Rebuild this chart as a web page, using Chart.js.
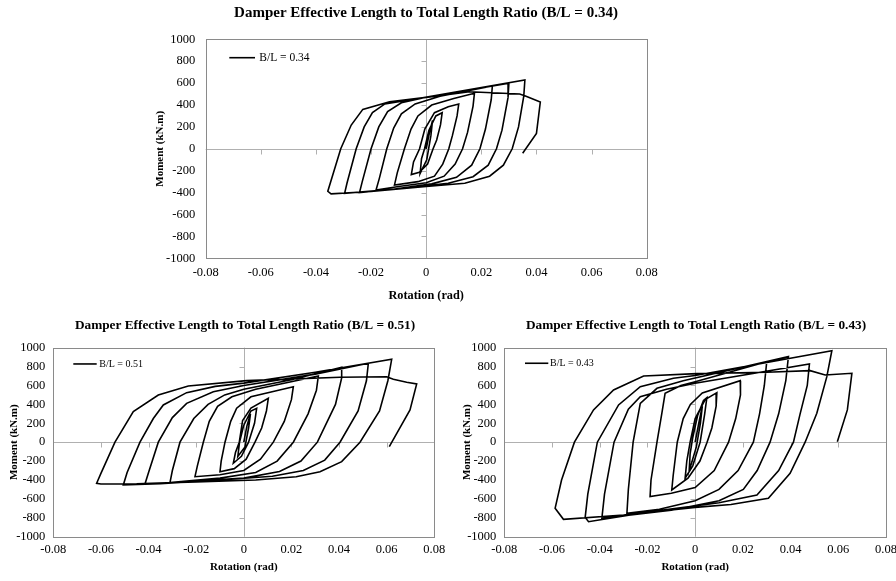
<!DOCTYPE html>
<html><head><meta charset="utf-8">
<script src="https://cdn.jsdelivr.net/npm/chart.js@4.4.0/dist/chart.umd.min.js"></script>
<style>
html,body{margin:0;padding:0;background:#fff;overflow:hidden;width:896px;height:581px;position:relative;}
canvas{position:absolute;}
</style></head><body>
<canvas id="c1" width="572" height="310" style="left:140px;top:0px"></canvas>
<canvas id="c2" width="490" height="273" style="left:0px;top:308px"></canvas>
<canvas id="c3" width="492" height="273" style="left:450px;top:308px"></canvas>
<script>
const xTickLabels = ['-0.08','-0.06','-0.04','-0.02','0','0.02','0.04','0.06','0.08'];
const yTickLabels = ['-1000','-800','-600','-400','-200','0','200','400','600','800','1000'];
const xAxisTitle = 'Rotation (rad)';
const yAxisTitle = 'Moment (kN.m)';
const chartTitles = [
  'Damper Effective Length to Total Length Ratio (B/L = 0.34)',
  'Damper Effective Length to Total Length Ratio (B/L = 0.51)',
  'Damper Effective Length to Total Length Ratio (B/L = 0.43)'
];
const seriesLabels = ['B/L = 0.34','B/L = 0.51','B/L = 0.43'];

// [rotation (rad), moment (kN.m)]
const curve034 = [
[0,0],[0.0012,150],[0.0023,260],[0.0017,120],[0.0002,-100],[-0.0022,-225],
[-0.0017,-90],[-0.0006,0],[0.0010,170],[0.0035,300],[0.0058,330],
[0.0052,220],[0.0038,80],[0.0025,0],[0.0005,-140],[-0.0025,-215],[-0.0054,-235],
[-0.0046,-120],[-0.0024,0],[-0.0005,180],[0.0030,330],[0.0080,385],[0.0118,409],
[0.0112,300],[0.0095,120],[0.0082,0],[0.0060,-140],[0.0030,-250],[-0.0030,-300],[-0.0115,-330],
[-0.0105,-220],[-0.0079,0],[-0.0055,180],[-0.0030,300],[0.0020,400],[0.0100,460],[0.0175,507],
[0.0170,390],[0.0150,150],[0.0132,0],[0.0105,-140],[0.0065,-250],[0.0000,-310],[-0.0100,-345],[-0.0182,-376],
[-0.0170,-270],[-0.0143,0],[-0.0118,190],[-0.0090,320],[-0.0040,410],[0.0050,480],[0.0240,573],
[0.0236,450],[0.0215,180],[0.0195,0],[0.0165,-150],[0.0110,-260],[0.0020,-320],[-0.0120,-370],[-0.0242,-400],
[-0.0232,-300],[-0.0200,0],[-0.0172,200],[-0.0140,340],[-0.0090,420],[0.0000,470],[0.0300,598],
[0.0297,470],[0.0275,170],[0.0255,0],[0.0225,-150],[0.0170,-255],[0.0080,-315],[-0.0100,-365],[-0.0296,-406],
[-0.0287,-310],[-0.0254,0],[-0.0225,200],[-0.0195,330],[-0.0150,410],[-0.0050,450],[0.0358,628],
[0.0354,480],[0.0335,200],[0.0312,0],[0.0280,-150],[0.0230,-250],[0.0140,-315],[0.0000,-345],[-0.0200,-390],[-0.0345,-412],[-0.0357,-388],
[-0.0310,0],[-0.0272,217],[-0.0230,360],[-0.0133,430],[0.0000,470],[0.0157,521],[0.0339,500],[0.0360,482],[0.0414,427],[0.0400,141],[0.0350,-41]
];

const curve051 = [
[0,0],[0.0013,170],[0.0028,300],[0.0020,150],[0.0005,-50],[-0.0025,-150],
[-0.0018,0],[0.0000,180],[0.0030,330],[0.0054,358],
[0.0045,200],[0.0020,0],[-0.0010,-150],[-0.0044,-223],
[-0.0035,-110],[-0.0019,0],[-0.0005,230],[0.0030,360],[0.0103,464],
[0.0095,330],[0.0075,150],[0.0047,0],[0.0010,-180],[-0.0040,-280],[-0.0100,-312],
[-0.0095,-200],[-0.0079,0],[-0.0055,220],[-0.0030,360],[0.0030,480],[0.0208,587],
[0.0200,450],[0.0170,220],[0.0124,0],[0.0070,-180],[0.0000,-300],[-0.0100,-345],[-0.0205,-365],
[-0.0195,-250],[-0.0170,0],[-0.0145,220],[-0.0110,380],[-0.0050,480],[0.0050,560],[0.0313,700],
[0.0305,550],[0.0270,300],[0.0208,0],[0.0140,-200],[0.0050,-320],[-0.0100,-380],[-0.0310,-428],
[-0.0300,-300],[-0.0268,0],[-0.0210,250],[-0.0150,400],[-0.0080,500],[0.0000,560],[0.0200,660],[0.0411,793],
[0.0411,680],[0.0385,400],[0.0309,0],[0.0240,-200],[0.0150,-310],[0.0000,-380],[-0.0250,-420],[-0.0415,-442],
[-0.0400,-320],[-0.0359,0],[-0.0300,260],[-0.0240,411],[-0.0128,534],[0.0000,600],[0.0300,720],[0.0523,835],
[0.0515,650],[0.0480,330],[0.0404,0],[0.0340,-190],[0.0250,-300],[0.0120,-360],[-0.0100,-400],[-0.0350,-440],[-0.0506,-453],
[-0.0490,-320],[-0.0436,0],[-0.0380,250],[-0.0338,394],[-0.0240,524],[-0.0120,590],[0.0000,625],[0.0300,740],[0.0621,877],
[0.0605,650],[0.0570,330],[0.0488,0],[0.0411,-206],[0.0320,-312],[0.0220,-365],[0.0050,-400],[-0.0200,-420],[-0.0450,-440],[-0.0600,-442],[-0.0618,-435],
[-0.0600,-330],[-0.0541,0],[-0.0464,323],[-0.0359,499],[-0.0233,595],[0.0012,651],[0.0404,687],[0.0600,693],[0.0628,666],[0.0684,634],[0.0726,616],[0.0698,342],[0.0611,-48]
];

const curve043 = [
[0,0],[0.0015,200],[0.0030,380],[0.0022,200],[0.0005,-50],[-0.0015,-220],[-0.0025,-300],
[-0.0021,-120],[-0.0010,50],[0.0010,280],[0.0035,440],[0.0049,470],
[0.0040,300],[0.0021,0],[-0.0010,-250],[-0.0042,-380],
[-0.0035,-200],[-0.0021,0],[0.0000,250],[0.0042,450],[0.0091,524],
[0.0088,380],[0.0070,150],[0.0050,0],[0.0020,-200],[-0.0030,-380],[-0.0098,-506],
[-0.0092,-350],[-0.0075,0],[-0.0050,250],[-0.0020,400],[0.0030,520],[0.0189,651],
[0.0190,500],[0.0170,250],[0.0140,0],[0.0080,-300],[0.0000,-480],[-0.0100,-540],[-0.0189,-576],
[-0.0185,-400],[-0.0160,0],[-0.0140,300],[-0.0126,517],[-0.0060,600],[0.0000,640],[0.0300,850],
[0.0290,600],[0.0270,300],[0.0244,0],[0.0180,-300],[0.0100,-500],[0.0000,-620],[-0.0150,-710],[-0.0286,-752],
[-0.0280,-500],[-0.0260,0],[-0.0230,411],[-0.0160,570],[-0.0050,650],[0.0000,680],[0.0391,905],
[0.0380,650],[0.0350,300],[0.0314,0],[0.0260,-300],[0.0202,-500],[0.0100,-620],[-0.0100,-720],[-0.0391,-805],
[-0.0380,-550],[-0.0340,0],[-0.0280,350],[-0.0230,480],[-0.0120,560],[0.0000,623],[0.0479,827],
[0.0470,600],[0.0440,300],[0.0412,0],[0.0350,-300],[0.0259,-559],[0.0100,-640],[-0.0200,-740],[-0.0447,-841],[-0.0461,-795],
[-0.0450,-550],[-0.0410,0],[-0.0321,394],[-0.0230,587],[-0.0091,676],[0.0000,705],[0.0573,968],
[0.0552,693],[0.0510,306],[0.0461,0],[0.0398,-329],[0.0307,-594],[0.0150,-660],[0.0000,-690],[-0.0300,-770],[-0.0552,-816],[-0.0587,-700],
[-0.0560,-400],[-0.0506,0],[-0.0426,341],[-0.0342,552],[-0.0216,700],[0.0007,725],[0.0300,740],[0.0482,757],[0.0545,711],[0.0657,729],[0.0638,341],[0.0596,5]
];

const SERIF = '"Liberation Serif", "Times New Roman", serif';

const framePlugin = {
  id: 'frame',
  beforeDatasetsDraw(chart) {
    const {ctx, chartArea: a, scales: {x, y}} = chart;
    ctx.save();
    ctx.lineWidth = 1;
    ctx.strokeStyle = '#b0b0b0';
    const x0 = Math.round(x.getPixelForValue(0)) + 0.5;
    const y0 = Math.round(y.getPixelForValue(0)) + 0.5;
    ctx.beginPath();
    ctx.moveTo(a.left, y0); ctx.lineTo(a.right, y0);
    ctx.moveTo(x0, a.top); ctx.lineTo(x0, a.bottom);
    y.ticks.forEach(t => { const py = Math.round(y.getPixelForValue(t.value)) + 0.5; ctx.moveTo(x0 - 5, py); ctx.lineTo(x0, py); });
    x.ticks.forEach(t => { const px = Math.round(x.getPixelForValue(t.value)) + 0.5; ctx.moveTo(px, y0); ctx.lineTo(px, y0 + 5); });
    ctx.stroke();
    ctx.strokeStyle = '#8a8a8a';
    ctx.strokeRect(Math.round(a.left) + 0.5, Math.round(a.top) + 0.5, Math.round(a.width), Math.round(a.height));
    ctx.restore();
  },
  afterDatasetsDraw(chart, args, o) {
    const {ctx, chartArea: a} = chart;
    const ds = chart.data.datasets[0];
    ctx.save();
    ctx.strokeStyle = '#000';
    ctx.lineWidth = 1.6;
    ctx.beginPath();
    ctx.moveTo(a.left + o.x1, a.top + o.dy);
    ctx.lineTo(a.left + o.x2, a.top + o.dy);
    ctx.stroke();
    ctx.fillStyle = '#000';
    ctx.font = o.size + 'px ' + SERIF;
    ctx.textBaseline = 'middle';
    ctx.fillText(ds.label, a.left + o.tx, a.top + o.dy);
    ctx.restore();
  }
};

function makeChart(id, curve, title, label, c) {
  return new Chart(document.getElementById(id), {
    type: 'scatter',
    data: { datasets: [{
      label: label,
      data: curve.map(p => ({x: p[0], y: p[1]})),
      showLine: true, borderColor: '#000', borderWidth: 1.6,
      pointRadius: 0, pointHoverRadius: 0, fill: false, tension: 0
    }]},
    options: {
      responsive: false, animation: false, devicePixelRatio: 1,
      layout: { padding: 0 },
      plugins: {
        legend: { display: false },
        tooltip: { enabled: false },
        title: { display: true, text: title, color: '#000',
          font: { family: SERIF, size: c.titleSize, weight: 'bold' },
          padding: { top: c.titleTop, bottom: c.titleBottom } },
        frame: c.legend
      },
      scales: {
        x: {
          type: 'linear', min: -0.08, max: 0.08,
          grid: { display: false, drawTicks: false }, border: { display: false },
          ticks: { stepSize: 0.02, color: '#000', font: { family: SERIF, size: c.tickSize },
            padding: c.xTickPad, maxRotation: 0, autoSkip: false,
            callback: (v, i) => xTickLabels[i] },
          title: { display: true, text: xAxisTitle, color: '#000',
            font: { family: SERIF, size: c.xTitleSize, weight: 'bold' },
            padding: { top: 0, bottom: c.xTitlePad } },
          afterFit: s => { s.height = c.xHeight; }
        },
        y: {
          type: 'linear', min: -1000, max: 1000,
          grid: { display: false, drawTicks: false }, border: { display: false },
          ticks: { stepSize: 200, color: '#000', font: { family: SERIF, size: c.tickSize },
            padding: c.yTickPad, autoSkip: false,
            callback: (v, i) => yTickLabels[i] },
          title: { display: true, text: yAxisTitle, color: '#000',
            font: { family: SERIF, size: c.yTitleSize, weight: 'bold' },
            padding: { top: c.yTitlePad, bottom: 0 } },
          afterFit: s => { s.width = c.yWidth; }
        },
        spacer: {
          type: 'linear', position: 'right', display: true,
          grid: { display: false, drawTicks: false }, border: { display: false },
          ticks: { display: false }, title: { display: false },
          afterFit: s => { s.width = c.rightSpace; }
        }
      }
    },
    plugins: [framePlugin]
  });
}

makeChart('c1', curve034, chartTitles[0], seriesLabels[0], {
  rightSpace: 65.3, titleSize: 15, titleTop: 4.5, titleBottom: 16.8,
  tickSize: 12.5, xTickPad: 6.5, xTitleSize: 12.3, xTitlePad: 6.6, xHeight: 51.7,
  yTickPad: 10.5, yTitleSize: 11, yTitlePad: 13.4, yWidth: 65.7,
  legend: { x1: 23.6, x2: 49.3, dy: 18.4, tx: 53.6, size: 11.5 }
});
makeChart('c2', curve051, chartTitles[1], seriesLabels[1], {
  rightSpace: 55.7, titleSize: 13.3, titleTop: 10, titleBottom: 13.7,
  tickSize: 12.5, xTickPad: 5.5, xTitleSize: 11, xTitlePad: 7.4, xHeight: 44.3,
  yTickPad: 8, yTitleSize: 11, yTitlePad: 7.4, yWidth: 53.3,
  legend: { x1: 20, x2: 43.4, dy: 16.3, tx: 46, size: 10 }
});
makeChart('c3', curve043, chartTitles[2], seriesLabels[2], {
  rightSpace: 56, titleSize: 13.3, titleTop: 10, titleBottom: 13.7,
  tickSize: 12.5, xTickPad: 5.5, xTitleSize: 11, xTitlePad: 7.4, xHeight: 44.3,
  yTickPad: 8, yTitleSize: 11, yTitlePad: 10.4, yWidth: 54.3,
  legend: { x1: 20.7, x2: 44, dy: 15.6, tx: 45.7, size: 10 }
});
</script>
</body></html>
